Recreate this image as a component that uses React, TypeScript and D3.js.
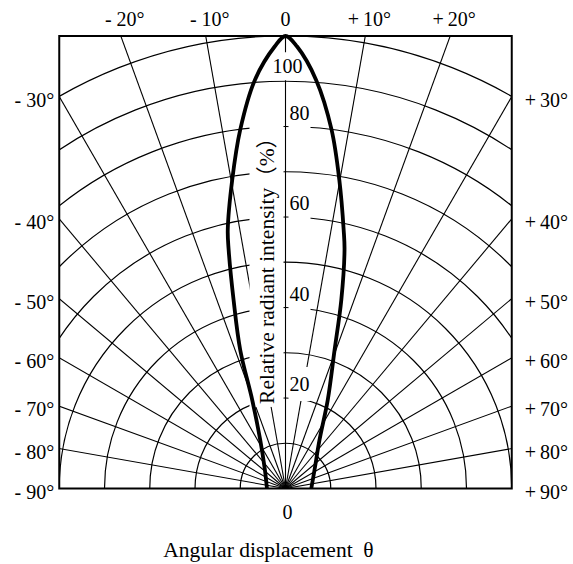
import React, { useEffect, useRef } from "react";
import * as d3 from "d3";

// grid
const gridLevels = [10, 20, 30, 40, 50, 60, 70, 80, 90, 100];
const spokeAngles = [-90, -80, -70, -60, -50, -40, -30, -20, -10, 0, 10, 20, 30, 40, 50, 60, 70, 80, 90];

// tick labels
const topTicks = [-20, -10, 0, 10, 20];
const sideTicks = [30, 40, 50, 60, 70, 80, 90];
const intensityLabels = [20, 40, 60, 80, 100];

// radiation pattern, angle (deg) vs relative intensity (%)
const curveAngles = [-90, -48.2, -27.5, -20.6, -18.1, -15.4, -13.4, -12.6, -9.8, -7.2, -4.3, -1.4, 0, 1.5, 4.3, 7.3, 9.9, 12.7, 13.9, 16.5, 19.5, 25.5, 35, 57.5, 90];
const curveIntensity = [4.1, 6.1, 12.1, 20.9, 32.2, 43.2, 54.2, 58.5, 69.2, 79.9, 90.5, 97.7, 100, 97.7, 90.5, 80, 69.2, 58.5, 54.3, 43.4, 32.5, 21.7, 13.1, 7.6, 5.7];

const W = 573,
  H = 564;
const cx = 285.5,
  cy = 488.5,
  R = 452.5;
const FONT = "'Liberation Serif', 'Times New Roman', 'Noto Sans CJK SC', serif";

const rad = (d: number) => (d * Math.PI) / 180;
const fmt = (a: number) => (a === 0 ? "0" : (a < 0 ? "- " : "+\u2009") + Math.abs(a) + "°");

export default function App() {
  const ref = useRef<SVGSVGElement>(null);

  useEffect(() => {
    const svg = d3.select(ref.current);
    svg.selectAll("*").remove();

    const r = d3.scaleLinear().domain([0, 100]).range([0, R]);
    const left = cx - R / 2,
      right = cx + R / 2,
      top = cy - R;

    svg
      .append("defs")
      .append("clipPath")
      .attr("id", "box")
      .append("rect")
      .attr("x", left)
      .attr("y", top)
      .attr("width", right - left)
      .attr("height", cy - top);

    // grid, clipped to the frame
    const grid = svg
      .append("g")
      .attr("clip-path", "url(#box)")
      .append("g")
      .attr("transform", `translate(${cx},${cy})`);
    const g = svg.append("g").attr("transform", `translate(${cx},${cy})`);

    // arcs
    const arc = d3.arc<number>()
      .innerRadius((d) => r(d))
      .outerRadius((d) => r(d))
      .startAngle(-Math.PI / 2)
      .endAngle(Math.PI / 2);
    grid
      .selectAll("path.arc")
      .data(gridLevels)
      .enter()
      .append("path")
      .attr("class", "arc")
      .attr("d", (d) => arc(d))
      .attr("fill", "none")
      .attr("stroke", "#000")
      .attr("stroke-width", 1.2);

    // spokes
    grid
      .selectAll("line.spoke")
      .data(spokeAngles)
      .enter()
      .append("line")
      .attr("x1", 0)
      .attr("y1", 0)
      .attr("x2", (d) => r(200) * Math.sin(rad(d)))
      .attr("y2", (d) => -r(200) * Math.cos(rad(d)))
      .attr("stroke", "#000")
      .attr("stroke-width", 1.1);

    // label with white backing
    const boxedText = (
      x: number,
      y: number,
      text: string,
      anchor: string,
      size: number,
      padX: number,
      padY: number,
      rotate = 0
    ) => {
      const lg = g.append("g").attr("transform", `translate(${x},${y}) rotate(${rotate})`);
      const bg = lg.append("rect").attr("fill", "#fff");
      const t = lg
        .append("text")
        .attr("text-anchor", anchor)
        .attr("font-family", FONT)
        .attr("font-size", size)
        .attr("fill", "#000")
        .text(text);
      const bb = (t.node() as SVGTextElement).getBBox();
      bg.attr("x", bb.x - padX)
        .attr("y", bb.y - padY)
        .attr("width", bb.width + 2 * padX)
        .attr("height", bb.height + 2 * padY);
    };

    // intensity labels along the 0 axis
    intensityLabels.forEach((v) => {
      if (v === 100) boxedText(2, -r(90) - 8, String(v), "middle", 20, 1, 3);
      else boxedText(4, -r(v) - 7, String(v), "start", 20, 1, 6);
    });

    // axis title
    boxedText(-12, -r(49.3), "Relative radiant intensity（%）", "middle", 21.5, 3, 5, -90);

    // frame
    svg
      .append("rect")
      .attr("x", left)
      .attr("y", top)
      .attr("width", right - left)
      .attr("height", cy - top)
      .attr("fill", "none")
      .attr("stroke", "#000")
      .attr("stroke-width", 2);

    // pattern curve
    const line = d3
      .lineRadial<number>()
      .angle((i) => rad(curveAngles[i]))
      .radius((i) => r(curveIntensity[i]))
      .curve(d3.curveCatmullRom.alpha(0.5));
    g.append("path")
      .attr("d", line(d3.range(curveAngles.length)))
      .attr("fill", "none")
      .attr("stroke", "#000")
      .attr("stroke-width", 3.8)
      .attr("stroke-linejoin", "round");

    const txt = svg.append("g").attr("font-family", FONT).attr("font-size", 20).attr("fill", "#000");

    // top ticks
    txt
      .selectAll("text.top")
      .data(topTicks)
      .enter()
      .append("text")
      .attr("x", (d) => cx + R * Math.tan(rad(d)) + (d === 0 ? 0 : 4))
      .attr("y", top - 10)
      .attr("text-anchor", "middle")
      .text((d) => fmt(d));

    // side ticks
    const sideY = (a: number) => (a === 90 ? cy : cy - R / 2 / Math.tan(rad(a)));
    txt
      .selectAll("text.left")
      .data(sideTicks)
      .enter()
      .append("text")
      .attr("x", left - 5)
      .attr("y", (d) => sideY(d))
      .attr("dy", "0.5em")
      .attr("text-anchor", "end")
      .text((d) => fmt(-d));
    txt
      .selectAll("text.right")
      .data(sideTicks)
      .enter()
      .append("text")
      .attr("x", right + 13)
      .attr("y", (d) => sideY(d))
      .attr("dy", "0.5em")
      .attr("text-anchor", "start")
      .text((d) => fmt(d));

    // bottom
    txt.append("text").attr("x", cx + 2).attr("y", cy + 30).attr("text-anchor", "middle").text("0");
    txt
      .append("text")
      .attr("x", cx - 17)
      .attr("y", cy + 68)
      .attr("text-anchor", "middle")
      .attr("font-size", 21.5)
      .attr("xml:space", "preserve")
      .text("Angular displacement  θ");
  }, []);

  return (
    <svg
      ref={ref}
      width={W}
      height={H}
      style={{ position: "absolute", left: 0, top: 0, background: "#fff" }}
    />
  );
}
